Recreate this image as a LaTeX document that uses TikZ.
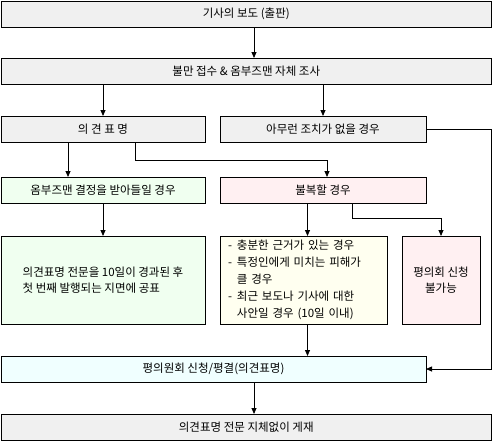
\documentclass[tikz,border=0pt]{standalone}
\usepackage{fontspec}
\setmainfont{Noto Sans CJK KR}
\usetikzlibrary{arrows.meta}
\definecolor{SoftGray}{HTML}{F0F0F0}
\definecolor{SoftGreen}{HTML}{F0FFF0}
\definecolor{SoftPink}{HTML}{FFF0F2}
\definecolor{SoftYellow}{HTML}{FFFFF0}
\definecolor{SoftCyan}{HTML}{F0FFFF}
\begin{document}
\begin{tikzpicture}[x=1pt,y=-1pt,
  box/.style={draw=black,line width=0.8pt,fill=SoftGray,anchor=north west,inner sep=0pt,outer sep=0pt,align=center,font=\fontsize{11.5}{16.5}\selectfont},
  wide/.style={box,minimum width=490.5pt,minimum height=26pt},
  half/.style={box,minimum width=204pt,minimum height=26.5pt},
  tall/.style={box,minimum height=88pt},
  arrow/.style={-{Triangle[length=6pt,width=5pt]},line width=0.8pt}
]
\useasboundingbox (0,0) rectangle (493,442);
\node[wide] (press) at (1,1) {기사의 보도 (출판)};
\node[wide] (claim) at (1,58) {불만 접수 \& 옴부즈맨 자체 조사};
\node[half] (opinion) at (1,116) {의 견 표 명};
\node[half,minimum width=206pt] (noaction) at (220,116) {아무런 조치가 없을 경우};
\node[half,fill=SoftGreen] (accept) at (1,177) {옴부즈맨 결정을 받아들일 경우};
\node[half,minimum width=206pt,fill=SoftPink] (object) at (220,177) {불복할 경우};
\node[tall,minimum width=204pt,fill=SoftGreen,align=left] (publish) at (1,236)
  {의견표명 전문을 10일이 경과된 후\\첫 번째 발행되는 지면에 공표};
\node[tall,minimum width=167pt,fill=SoftYellow,text width=151pt,align=left] (cases) at (220,236)
  {\renewcommand{\arraystretch}{1.03}\begin{tabular}{@{}l@{\hspace{5pt}}l@{}}
   - & 충분한 근거가 있는 경우\\
   - & 특정인에게 미치는 피해가\\
     & 클 경우\\
   - & 최근 보도나 기사에 대한\\
     & 사안일 경우 (10일 이내)
   \end{tabular}};
\node[tall,minimum width=78pt,fill=SoftPink] (refuse) at (402,236) {평의회 신청\\불가능};
\node[wide,minimum width=425pt,fill=SoftCyan] (council) at (1,356) {평의원회 신청/평결(의견표명)};
\node[wide] (print) at (1,414) {의견표명 전문 지체없이 게재};
% column and turn points
\coordinate (mid) at (254,0);
\coordinate (left) at (68,0);
\coordinate (split) at (135,160);
\coordinate (toobj) at (327,0);
\coordinate (tocases) at (307.5,0);
\coordinate (fork) at (352,218);
\coordinate (edge) at (491.5,0);
\draw[arrow] (press.south -| mid) -- (claim.north -| mid);
\draw[arrow] (claim.south -| opinion.north) -- (opinion.north);
\draw[arrow] (claim.south -| noaction.north) -- (noaction.north);
\draw[arrow] (opinion.south -| left) -- (accept.north -| left);
\draw[arrow] (opinion.south -| split) |- (split -| toobj) -- (object.north -| toobj);
\draw[arrow] (accept.south) -- (publish.north);
\draw[arrow] (object.south -| tocases) -- (cases.north -| tocases);
\draw[arrow] (object.south -| fork) |- (fork -| refuse.north) -- (refuse.north);
\draw[arrow] (noaction.east) -- (noaction.east -| edge) |- (council.east);
\draw[arrow] (cases.south -| tocases) -- (council.north -| tocases);
\draw[arrow] (council.south -| mid) -- (print.north -| mid);
\end{tikzpicture}
\end{document}
